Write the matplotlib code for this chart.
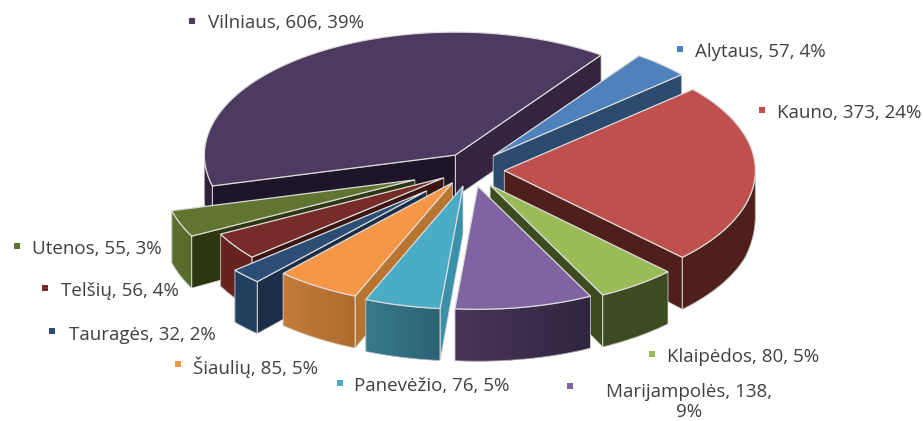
import numpy as np
import matplotlib
matplotlib.use('Agg')
import matplotlib.pyplot as plt
from matplotlib.patches import Polygon

plt.rcParams['font.family'] = ['Open Sans', 'DejaVu Sans']

# clockwise from the first slice
regions = ['Alytaus', 'Kauno', 'Klaipėdos', 'Marijampolės', 'Panevėžio',
           'Šiaulių', 'Tauragės', 'Telšių', 'Utenos', 'Vilniaus']
values = [57, 373, 80, 138, 76, 85, 32, 56, 55, 606]
percents = [4, 24, 5, 9, 5, 5, 2, 4, 3, 39]

# pie geometry, in pixels of the 923x421 picture
CX, CY = 473, 170
RX, RY = 251, 123
START = 35.5
explode_x = [0.12, 0.125, 0.116, 0.104, 0.164, 0.152, 0.256, 0.14, 0.248, 0.124]
explode_y = [0.076, 0.075, 0.074, 0.066, 0.066, 0.06, 0.12, 0.056, 0.11, 0.072]

top_colors = ['#4F81BD', '#C0504D', '#9BBB59', '#8064A2', '#4BACC6',
              '#F79646', '#2C4D75', '#772C2A', '#5F7530', '#4D3A60']
rim_left = ['#2A4A6E', '#4F1F1C', '#3D4B20', '#4A3558', '#37798C',
            '#C27B3A', '#223F60', '#65231F', '#5A702E', '#2E2038']
rim_right = ['#2A4A6E', '#4F1F1C', '#3D4B20', '#2F2540', '#2B6272',
             '#AE6A2E', '#223F60', '#65231F', '#566A2A', '#2E2038']
cut_colors = ['#2A4A6E', '#4F1F1C', '#3D4B20', '#2F2540', '#3A90A8',
              '#B8752F', '#1A2E48', '#3A1512', '#2C3610', '#1F1528']
end_colors = ['#2A4A6E', '#4F1F1C', '#3D4B20', '#2F2540', '#3A90A8',
              '#B8752F', '#1A2E48', '#3A1512', '#2C3610', '#352440']

# back slices are painted first
draw_order = [9, 0, 1, 8, 7, 6, 5, 4, 2, 3]

# (marker x, marker y, text x, text y)
label_pos = [(680, 49, 695, 52), (762, 110, 777, 113), (652, 354, 667, 357),
             (570, 386, 689, 402), (340, 383, 354, 386), (178, 364, 193, 367),
             (52, 331, 69, 335), (45, 288, 61, 291), (17, 246, 32, 249),
             (192, 21, 208, 23)]
EDGE = '#dcdcdc'
TEXT = '#404040'


def depth(y):
    return np.clip(42 + (y - 155) * 0.2, 42, 52)


def rim_point(ax0, ay0, theta):
    t = np.radians(theta)
    return ax0 + RX * np.sin(t), ay0 - RY * np.cos(t)


def blend(c1, c2, f):
    a = np.array(matplotlib.colors.to_rgb(c1))
    b = np.array(matplotlib.colors.to_rgb(c2))
    return a + (b - a) * f


def wall(ax, pts, color, z):
    pts = np.array(pts)
    low = pts.copy()
    low[:, 1] = low[:, 1] + depth(pts[:, 1])
    quad = np.vstack([pts, low[::-1]])
    ax.add_patch(Polygon(quad, closed=True, facecolor=color, edgecolor='none', zorder=z))
    return quad


def draw_slice(ax, i, t0, t1, z):
    mid = np.radians((t0 + t1) / 2)
    ax0 = CX + explode_x[i] * RX * np.sin(mid)
    ay0 = CY - explode_y[i] * RX * np.cos(mid)
    apex = (ax0, ay0)
    outlines = []

    # cut faces, only the ones turned towards the viewer
    if np.sin(np.radians(t0)) < 0:
        outlines.append(wall(ax, [apex, rim_point(ax0, ay0, t0)], cut_colors[i], z))
    if np.sin(np.radians(t1)) > 0:
        outlines.append(wall(ax, [apex, rim_point(ax0, ay0, t1)], end_colors[i], z))

    # outer wall on the front half of the ellipse
    a0 = max(t0, 90)
    a1 = min(t1, 270)
    if a1 > a0:
        angles = np.linspace(a0, a1, 40)
        rim = np.array([rim_point(ax0, ay0, a) for a in angles])
        low = rim.copy()
        low[:, 1] = low[:, 1] + depth(rim[:, 1])
        xmin, xmax = rim[:, 0].min(), rim[:, 0].max()
        # overlap the strips so no seams show between them
        for k in range(len(angles) - 1):
            f = ((rim[k, 0] + rim[k + 1, 0]) / 2 - xmin) / max(xmax - xmin, 1)
            c = blend(rim_left[i], rim_right[i], f)
            k2 = min(k + 3, len(angles) - 1)
            strip = np.vstack([rim[k:k2 + 1], low[k:k2 + 1][::-1]])
            ax.add_patch(Polygon(strip, closed=True, facecolor=c, edgecolor='none', zorder=z))
        outlines.append(np.vstack([rim, low[::-1]]))

    for quad in outlines:
        ax.add_patch(Polygon(quad, closed=True, fill=False, edgecolor=EDGE,
                             linewidth=0.7, alpha=0.75, zorder=z + 0.1))

    angles = np.linspace(t0, t1, 60)
    rim = [rim_point(ax0, ay0, a) for a in angles]
    ax.add_patch(Polygon([apex] + rim, closed=True, facecolor=top_colors[i],
                         edgecolor=EDGE, linewidth=0.9, zorder=z + 0.2))


fig = plt.figure(figsize=(9.23, 4.21), dpi=100)
ax = fig.add_axes([0, 0, 1, 1])
ax.set_xlim(0, 923)
ax.set_ylim(421, 0)
ax.axis('off')

spans = np.array(values) / sum(values) * 360
edges = START + np.concatenate([[0], np.cumsum(spans)])

for z, i in enumerate(draw_order):
    draw_slice(ax, i, edges[i], edges[i + 1], z + 1)

for i, name in enumerate(regions):
    mx, my, tx, ty = label_pos[i]
    ax.plot([mx], [my], marker='s', markersize=5, color=top_colors[i],
            linestyle='none', markeredgewidth=0, zorder=30)
    if name == 'Marijampolės':
        label = f'{name}, {values[i]},\n{percents[i]}%'
        ax.text(tx, ty, label, ha='center', va='center', fontsize=13.5,
                color=TEXT, linespacing=1.15, zorder=30)
    else:
        label = f'{name}, {values[i]}, {percents[i]}%'
        ax.text(tx, ty, label, ha='left', va='center', fontsize=13.5,
                color=TEXT, zorder=30)

fig.savefig('out.png', dpi=100)
